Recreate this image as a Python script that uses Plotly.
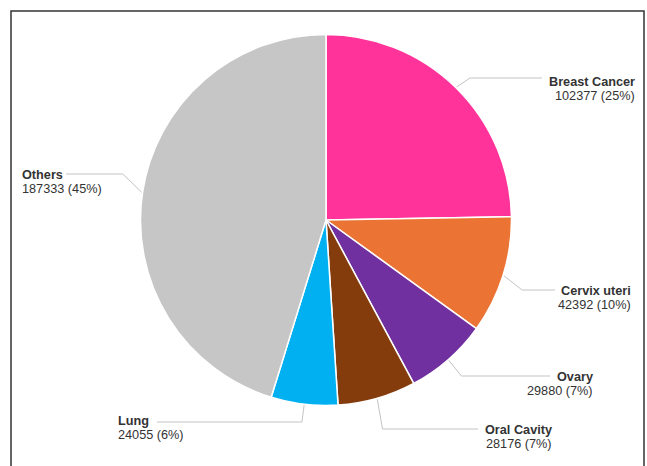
import math
import plotly.graph_objects as go

# Cancer cases by site
sites = ["Breast Cancer", "Cervix uteri", "Ovary", "Oral Cavity", "Lung", "Others"]
cases = [102377, 42392, 29880, 28176, 24055, 187333]
colors = ["#FF3399", "#EB7434", "#7030A0", "#843C0C", "#00B0F0", "#C6C6C6"]

W, H = 647, 466
CX, CY, R = 326.0, 220.0, 185.5   # pie centre and radius in pixels
FONT = dict(family="Liberation Sans, Arial", size=12.7, color="#333333")
ROW_GAP = 14.5

# label placement: side, text edge x, label-row y, connector y, connector end x
label_layout = {
    "Breast Cancer": ("right", 636, 81.5, 78, 542),
    "Cervix uteri": ("right", 632, 290.5, 290, 555),
    "Ovary": ("right", 594, 376.5, 376, 550),
    "Oral Cavity": ("right", 553, 429.5, 429, 478),
    "Lung": ("left", 117, 420.5, 422, 157),
    "Others": ("left", 21, 174.5, 174, 66),
}


def px(x):
    return x / W


def py(y):
    return 1 - y / H


fig = go.Figure(go.Pie(
    labels=sites,
    values=cases,
    sort=False,
    direction="clockwise",
    rotation=0,
    textinfo="none",
    marker=dict(colors=colors, line=dict(color="white", width=1.5)),
    domain=dict(x=[px(CX - R), px(CX + R)], y=[py(CY + R), py(CY - R)]),
    showlegend=False,
))

total = sum(cases)
shapes = []
annotations = []
cum = 0.0
for name, val in zip(sites, cases):
    frac = val / total
    mid = (cum + frac / 2) * 2 * math.pi
    cum += frac
    s, c = math.sin(mid), math.cos(mid)
    side, tx, name_y, line_y, line_end = label_layout[name]
    # connector: slice edge -> elbow -> horizontal run to the label
    x0, y0 = CX + (R + 1) * s, CY - (R + 1) * c
    xk = CX + (R + 20) * s
    path = f"M {px(x0)},{py(y0)} L {px(xk)},{py(line_y)} L {px(line_end)},{py(line_y)}"
    shapes.append(dict(type="path", xref="paper", yref="paper", path=path,
                       line=dict(color="#C4C4C4", width=1)))
    anchor = "right" if side == "right" else "left"
    pct = round(val / total * 100)
    annotations.append(dict(
        x=px(tx), y=py(name_y), xref="paper", yref="paper",
        text=f"<b>{name}</b>", showarrow=False, xanchor=anchor, yanchor="middle",
        borderpad=0, font=FONT,
    ))
    annotations.append(dict(
        x=px(tx), y=py(name_y + ROW_GAP), xref="paper", yref="paper",
        text=f"{val} ({pct}%)", showarrow=False, xanchor=anchor, yanchor="middle",
        borderpad=0, font=FONT,
    ))

# outer frame
shapes.append(dict(type="rect", xref="paper", yref="paper",
                   x0=px(11), x1=px(644), y0=py(480), y1=py(11),
                   line=dict(color="#333333", width=1.5)))

fig.update_layout(
    width=W, height=H,
    margin=dict(l=0, r=0, t=0, b=0),
    paper_bgcolor="white",
    plot_bgcolor="white",
    shapes=shapes,
    annotations=annotations,
)

fig.write_html("out.html")
